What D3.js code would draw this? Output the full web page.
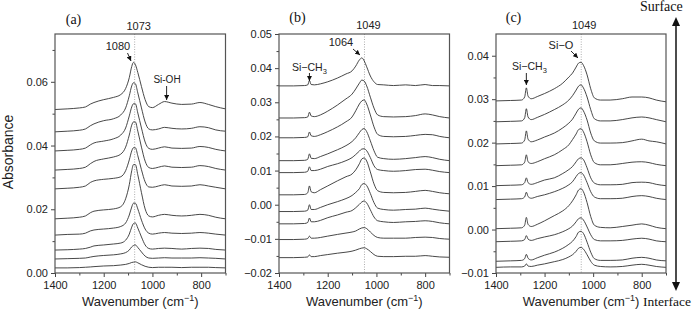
<!DOCTYPE html>
<html>
<head>
<meta charset="utf-8">
<script src="https://cdn.jsdelivr.net/npm/d3@7"></script>
<style>
  body { margin: 0; background: #fff; }
  svg { display: block; }
  .tick text { font-family: "Liberation Sans", Arial, sans-serif; font-size: 11px; fill: #222; }
  .lbl { font-family: "Liberation Sans", Arial, sans-serif; fill: #222; }
  .serif { font-family: "Liberation Serif", "Times New Roman", serif; fill: #111; }
</style>
</head>
<body>
<svg width="695" height="309"></svg>
<script>
// wavenumber grids (cm-1)
const waveA = [1400, 1350, 1300, 1275, 1255, 1240, 1200, 1160, 1130, 1110, 1095, 1085, 1078, 1070,
  1060, 1045, 1030, 1015, 1000, 975, 950, 920, 880, 840, 805, 770, 740, 700];
const waveB = [1400, 1340, 1295, 1282, 1275, 1268, 1255, 1230, 1200, 1160, 1125, 1100, 1085, 1070,
  1060, 1050, 1040, 1025, 1010, 995, 970, 930, 880, 840, 800, 770, 740, 700];
const waveC = waveB;

// (a) stacked spectra, top to bottom
const spectraA = [
  [.0513, .0515, .0518, .0521, .0530, .0535, .0544, .0551, .0560, .0579, .0613, .0648, .0661, .0654,
    .0629, .0585, .0544, .0522, .0519, .0529, .0538, .0533, .0529, .0530, .0535, .0529, .0522, .0515],
  [.0443, .0445, .0448, .0452, .0462, .0468, .0478, .0484, .0496, .0518, .0556, .0587, .0597, .0594,
    .0565, .0518, .0474, .0452, .0449, .0452, .0457, .0454, .0452, .0454, .0459, .0456, .0449, .0445],
  [.0383, .0385, .0388, .0392, .0402, .0408, .0414, .0421, .0433, .0455, .0493, .0521, .0531, .0531,
    .0502, .0455, .0411, .0391, .0388, .0392, .0396, .0392, .0391, .0392, .0397, .0394, .0388, .0383],
  [.0323, .0325, .0328, .0332, .0343, .0350, .0358, .0364, .0373, .0395, .0433, .0464, .0474, .0474,
    .0445, .0395, .0351, .0331, .0328, .0332, .0336, .0332, .0331, .0332, .0337, .0334, .0328, .0323],
  [.0264, .0266, .0269, .0273, .0284, .0289, .0294, .0297, .0302, .0321, .0355, .0383, .0393, .0393,
    .0368, .0324, .0286, .0270, .0269, .0273, .0277, .0273, .0272, .0273, .0277, .0273, .0269, .0264],
  [.0170, .0172, .0175, .0179, .0189, .0194, .0198, .0201, .0208, .0233, .0277, .0321, .0340, .0340,
    .0308, .0252, .0201, .0179, .0176, .0181, .0184, .0181, .0179, .0181, .0184, .0181, .0175, .0170],
  [.0119, .0121, .0122, .0125, .0132, .0135, .0138, .0141, .0146, .0157, .0182, .0207, .0219, .0219,
    .0201, .0166, .0138, .0125, .0122, .0125, .0127, .0125, .0124, .0125, .0127, .0125, .0122, .0119],
  [.0072, .0073, .0075, .0077, .0081, .0085, .0088, .0091, .0094, .0103, .0122, .0144, .0155, .0157,
    .0141, .0113, .0088, .0077, .0075, .0077, .0078, .0077, .0075, .0077, .0078, .0077, .0074, .0072],
  [.0044, .0045, .0046, .0047, .0050, .0052, .0055, .0057, .0060, .0064, .0072, .0082, .0086, .0088,
    .0080, .0066, .0053, .0047, .0046, .0047, .0048, .0047, .0047, .0047, .0048, .0047, .0046, .0044],
  [.0016, .0016, .0017, .0018, .0019, .0020, .0022, .0023, .0025, .0027, .0030, .0033, .0034, .0035,
    .0032, .0026, .0021, .0018, .0017, .0018, .0018, .0018, .0017, .0018, .0018, .0018, .0017, .0016]
];

// (b)
const spectraB = [
  [.0348, .0348, .0349, .0351, .0364, .0352, .0351, .0354, .0360, .0371, .0383, .0392, .0406, .0424,
    .0430, .0421, .0404, .0377, .0360, .0352, .0351, .0349, .0351, .0349, .0352, .0349, .0349, .0348],
  [.0254, .0254, .0255, .0257, .0271, .0260, .0258, .0263, .0274, .0292, .0310, .0324, .0339, .0356,
    .0365, .0362, .0348, .0315, .0283, .0263, .0258, .0257, .0258, .0261, .0266, .0263, .0258, .0254],
  [.0196, .0196, .0197, .0199, .0213, .0202, .0200, .0205, .0214, .0228, .0243, .0257, .0275, .0295,
    .0304, .0307, .0295, .0263, .0228, .0206, .0200, .0199, .0200, .0203, .0206, .0205, .0200, .0196],
  [.0129, .0129, .0130, .0133, .0149, .0136, .0135, .0141, .0149, .0161, .0173, .0185, .0196, .0211,
    .0220, .0223, .0214, .0187, .0158, .0139, .0135, .0133, .0135, .0138, .0141, .0138, .0133, .0129],
  [.0094, .0094, .0095, .0098, .0111, .0100, .0100, .0104, .0112, .0120, .0129, .0138, .0147, .0157,
    .0163, .0164, .0158, .0138, .0114, .0103, .0100, .0098, .0100, .0103, .0104, .0101, .0097, .0094],
  [.0029, .0029, .0030, .0035, .0055, .0038, .0035, .0044, .0055, .0070, .0082, .0090, .0102, .0120,
    .0134, .0137, .0128, .0096, .0061, .0041, .0036, .0035, .0036, .0039, .0042, .0039, .0035, .0032],
  [-.0020, -.0020, -.0019, -.0016, .0000, -.0014, -.0014, -.0008, .0000, .0009, .0018, .0027, .0036, .0047,
    .0059, .0062, .0056, .0033, .0006, -.0010, -.0014, -.0016, -.0014, -.0013, -.0010, -.0013, -.0016, -.0019],
  [-.0056, -.0056, -.0055, -.0052, -.0039, -.0050, -.0050, -.0046, -.0038, -.0030, -.0022, -.0017, -.0009, .0001,
    .0008, .0011, .0005, -.0015, -.0036, -.0047, -.0050, -.0052, -.0050, -.0049, -.0047, -.0049, -.0053, -.0056],
  [-.0102, -.0102, -.0101, -.0099, -.0092, -.0098, -.0098, -.0096, -.0092, -.0087, -.0083, -.0080, -.0077, -.0071,
    -.0068, -.0067, -.0070, -.0080, -.0090, -.0096, -.0098, -.0098, -.0098, -.0096, -.0095, -.0096, -.0099, -.0101],
  [-.0155, -.0155, -.0154, -.0153, -.0147, -.0152, -.0152, -.0149, -.0146, -.0142, -.0139, -.0136, -.0133, -.0129,
    -.0127, -.0126, -.0129, -.0137, -.0146, -.0151, -.0152, -.0152, -.0151, -.0151, -.0149, -.0151, -.0153, -.0154]
];

// (c)
const spectraC = [
  [.0296, .0297, .0298, .0305, .0326, .0307, .0301, .0306, .0313, .0324, .0337, .0351, .0360, .0374,
    .0383, .0385, .0378, .0356, .0324, .0303, .0298, .0298, .0301, .0305, .0305, .0303, .0298, .0294],
  [.0248, .0249, .0250, .0257, .0278, .0259, .0253, .0258, .0265, .0276, .0287, .0298, .0308, .0321,
    .0330, .0333, .0326, .0305, .0276, .0255, .0250, .0250, .0253, .0257, .0259, .0257, .0253, .0248],
  [.0197, .0198, .0199, .0206, .0227, .0208, .0202, .0206, .0213, .0222, .0234, .0245, .0254, .0268,
    .0277, .0280, .0273, .0252, .0222, .0204, .0199, .0199, .0200, .0204, .0208, .0204, .0202, .0197],
  [.0147, .0148, .0149, .0155, .0172, .0156, .0152, .0156, .0163, .0172, .0184, .0195, .0207, .0220,
    .0230, .0232, .0225, .0202, .0172, .0154, .0149, .0149, .0152, .0155, .0156, .0154, .0150, .0147],
  [.0101, .0102, .0103, .0108, .0119, .0108, .0104, .0108, .0114, .0119, .0129, .0138, .0145, .0156,
    .0163, .0165, .0161, .0142, .0119, .0107, .0103, .0103, .0104, .0108, .0109, .0108, .0104, .0101],
  [.0069, .0070, .0071, .0075, .0086, .0076, .0072, .0076, .0080, .0087, .0095, .0103, .0110, .0122,
    .0129, .0131, .0126, .0108, .0087, .0075, .0071, .0071, .0072, .0076, .0078, .0076, .0072, .0069],
  [.0002, .0003, .0004, .0010, .0028, .0012, .0007, .0012, .0020, .0032, .0043, .0055, .0066, .0080,
    .0091, .0094, .0087, .0062, .0030, .0010, .0005, .0004, .0007, .0010, .0013, .0010, .0005, .0002],
  [-.0028, -.0027, -.0026, -.0023, -.0014, -.0022, -.0025, -.0021, -.0017, -.0012, -.0005, .0002, .0008, .0018,
    .0025, .0027, .0022, .0006, -.0012, -.0023, -.0026, -.0026, -.0025, -.0022, -.0020, -.0022, -.0026, -.0028],
  [-.0073, -.0072, -.0071, -.0067, -.0057, -.0066, -.0070, -.0065, -.0059, -.0052, -.0043, -.0034, -.0027, -.0016,
    -.0006, -.0004, -.0009, -.0029, -.0052, -.0067, -.0071, -.0071, -.0070, -.0066, -.0064, -.0066, -.0070, -.0072],
  [-.0087, -.0086, -.0086, -.0084, -.0079, -.0084, -.0085, -.0082, -.0079, -.0074, -.0069, -.0063, -.0058, -.0050,
    -.0043, -.0041, -.0045, -.0058, -.0073, -.0082, -.0085, -.0086, -.0085, -.0082, -.0080, -.0082, -.0085, -.0087]
];

// ticks
const xTicks = [1400, 1200, 1000, 800];
const xMinor = [1300, 1100, 900, 700];
const yTicksA = [0, 0.02, 0.04, 0.06];
const yMinorA = [0.01, 0.03, 0.05, 0.07];
const yTicksB = [-0.02, -0.01, 0, 0.01, 0.02, 0.03, 0.04, 0.05];
const yMinorB = [-0.015, -0.005, 0.005, 0.015, 0.025, 0.035, 0.045];
const yTicksC = [-0.01, 0, 0.01, 0.02, 0.03, 0.04];
const yMinorC = [-0.005, 0.005, 0.015, 0.025, 0.035];
const markLines = [1073, 1049, 1049];

const svg = d3.select("svg");
const plotTop = 34, plotBottom = 273;

const defs = svg.append("defs");
defs.append("marker")
  .attr("id", "ah")
  .attr("viewBox", "0 0 10 10")
  .attr("refX", 10).attr("refY", 5)
  .attr("markerWidth", 5).attr("markerHeight", 5)
  .attr("markerUnits", "userSpaceOnUse")
  .attr("orient", "auto")
  .append("path").attr("d", "M0,0L10,5L0,10Z").attr("fill", "#111");

const panels = [
  { left: 55, right: 225.5, yDomain: [0, 0.075], yTicks: yTicksA, yMinor: yMinorA,
    wave: waveA, spectra: spectraA, mark: markLines[0] },
  { left: 279, right: 449.5, yDomain: [-0.02, 0.05], yTicks: yTicksB, yMinor: yMinorB,
    wave: waveB, spectra: spectraB, mark: markLines[1] },
  { left: 496, right: 666, yDomain: [-0.01, 0.045], yTicks: yTicksC, yMinor: yMinorC,
    wave: waveC, spectra: spectraC, mark: markLines[2] }
];

const scales = panels.map(drawPanel);

function drawPanel(p) {
  const x = d3.scaleLinear().domain([1400, 700]).range([p.left, p.right]);
  const y = d3.scaleLinear().domain(p.yDomain).range([plotBottom, plotTop]);
  const g = svg.append("g");

  // Peak position guide
  g.append("line")
    .attr("x1", x(p.mark)).attr("x2", x(p.mark))
    .attr("y1", plotTop).attr("y2", plotBottom)
    .attr("stroke", "#999")
    .attr("stroke-width", 0.8)
    .attr("stroke-dasharray", "1,1.5");

  // Spectra
  const line = d3.line()
    .x((d, i) => x(p.wave[i]))
    .y((d) => y(d))
    .curve(d3.curveMonotoneX);
  g.selectAll(".spec")
    .data(p.spectra)
    .enter()
    .append("path")
    .attr("class", "spec")
    .attr("d", line)
    .attr("fill", "none")
    .attr("stroke", "#333")
    .attr("stroke-width", 0.9);

  // Y axis
  const fmt = d3.format(".2f");
  g.append("g")
    .attr("transform", "translate(" + p.left + ",0)")
    .call(d3.axisLeft(y).tickValues(p.yTicks).tickFormat(fmt).tickSize(4).tickPadding(3))
    .call((a) => a.select(".domain").remove());
  g.append("g")
    .attr("transform", "translate(" + p.left + ",0)")
    .call(d3.axisLeft(y).tickValues(p.yMinor).tickFormat("").tickSize(2.5))
    .call((a) => a.select(".domain").remove());

  // X axis
  g.append("g")
    .attr("transform", "translate(0," + plotBottom + ")")
    .call(d3.axisBottom(x).tickValues(xTicks).tickFormat(d3.format("d")).tickSize(4).tickPadding(4))
    .call((a) => a.select(".domain").remove());
  g.append("g")
    .attr("transform", "translate(0," + plotBottom + ")")
    .call(d3.axisBottom(x).tickValues(xMinor).tickFormat("").tickSize(2.5))
    .call((a) => a.select(".domain").remove());
  g.selectAll(".tick line").attr("stroke", "#444");

  // Frame
  g.append("rect")
    .attr("x", p.left).attr("y", plotTop)
    .attr("width", p.right - p.left).attr("height", plotBottom - plotTop)
    .attr("fill", "none")
    .attr("stroke", "#555")
    .attr("stroke-width", 1.2);

  // X label
  const t = g.append("text")
    .attr("class", "lbl")
    .attr("x", (p.left + p.right) / 2)
    .attr("y", 306)
    .attr("text-anchor", "middle")
    .style("font-size", "13px");
  t.append("tspan").text("Wavenumber (cm");
  t.append("tspan").attr("dy", -5).style("font-size", "9px").text("\u22121");
  t.append("tspan").attr("dy", 5).text(")");

  return { x, y };
}

// Y label
svg.append("text")
  .attr("class", "lbl")
  .attr("text-anchor", "middle")
  .attr("transform", "translate(13,152)rotate(-90)")
  .style("font-size", "14px")
  .text("Absorbance");

// Panel letters
[["(a)", 73.5, 24], ["(b)", 297.5, 22], ["(c)", 513.5, 22]].forEach((d) => {
  svg.append("text").attr("class", "serif")
    .attr("x", d[1]).attr("y", d[2])
    .attr("text-anchor", "middle")
    .style("font-size", "14px")
    .text(d[0]);
});

function label(txt, x, y, size, anchor) {
  return svg.append("text").attr("class", "lbl")
    .attr("x", x).attr("y", y)
    .attr("text-anchor", anchor || "middle")
    .style("font-size", size + "px")
    .text(txt);
}
function arrow(x1, y1, x2, y2) {
  svg.append("line")
    .attr("x1", x1).attr("y1", y1).attr("x2", x2).attr("y2", y2)
    .attr("stroke", "#111").attr("stroke-width", 0.9)
    .attr("marker-end", "url(#ah)");
}
function siCH3(x, y) {
  const t = svg.append("text").attr("class", "lbl")
    .attr("x", x).attr("y", y)
    .style("font-size", "10.5px");
  t.append("tspan").text("Si\u2212CH");
  t.append("tspan").attr("dy", 3).style("font-size", "7.5px").text("3");
}

// (a) annotations
const sa = scales[0];
label("1073", sa.x(1073) + 4, 30, 11);
label("1080", 118, 50, 11);
arrow(127.5, 53, 131, 61);
label("Si-OH", 167, 83, 10);
arrow(sa.x(950) + 2, 86, sa.x(950) + 2, 100);

// (b) annotations
const sb = scales[1];
label("1049", sb.x(1049) + 4, 29, 11);
label("1064", 341, 46, 11);
arrow(353, 49, 360, 55);
siCH3(292, 71);
arrow(sb.x(1275), 73, sb.x(1275), 81);

// (c) annotations
const sc = scales[2];
label("1049", sc.x(1049) + 3, 29, 11);
label("Si\u2212O", 561, 49, 11);
arrow(571, 51, 578, 58);
siCH3(512, 70);
arrow(sc.x(1275), 73, sc.x(1275), 85);

// Surface / Interface arrow
svg.append("line")
  .attr("x1", 676).attr("x2", 676).attr("y1", 24).attr("y2", 284)
  .attr("stroke", "#111").attr("stroke-width", 1.5);
svg.append("path").attr("d", "M676,17L672,26L680,26Z").attr("fill", "#111");
svg.append("path").attr("d", "M676,291L672,282L680,282Z").attr("fill", "#111");
svg.append("text").attr("class", "serif")
  .attr("x", 640).attr("y", 11)
  .style("font-size", "14px").text("Surface");
svg.append("text").attr("class", "serif")
  .attr("x", 643).attr("y", 306)
  .style("font-size", "13.5px").text("Interface");
</script>
</body>
</html>
